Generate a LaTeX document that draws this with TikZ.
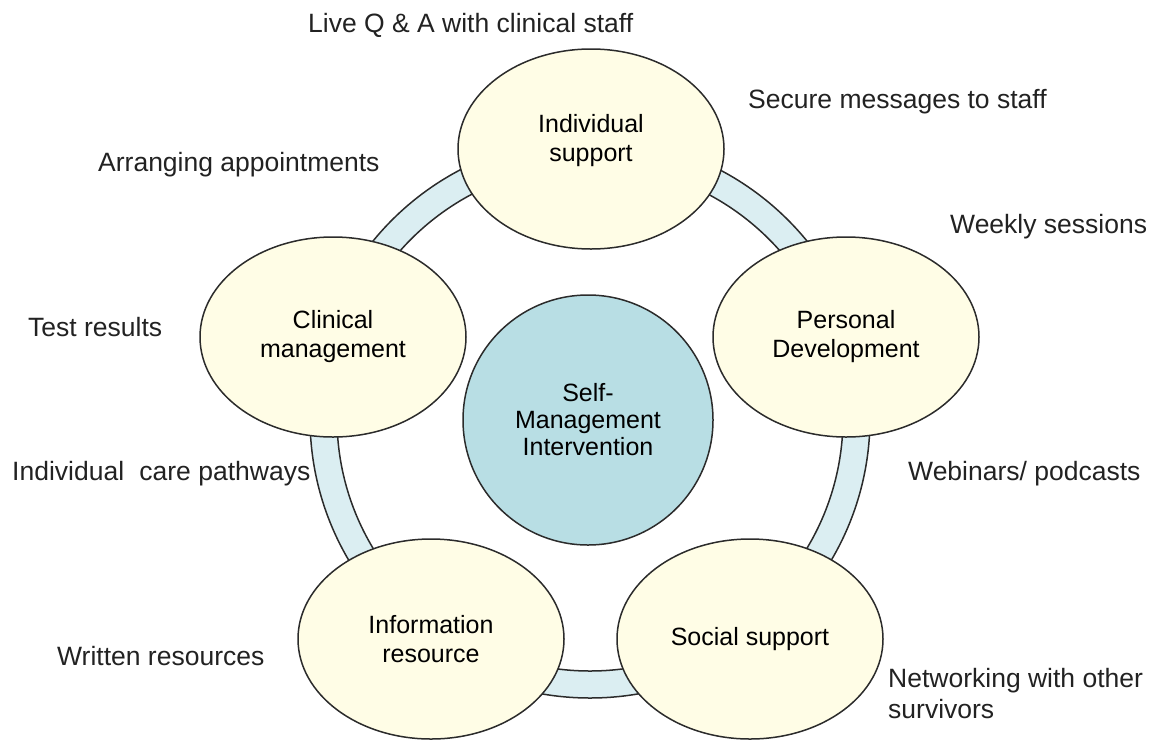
\documentclass[tikz,border=0pt]{standalone}
\usepackage{fontspec}
\setmainfont{Liberation Sans}
\usetikzlibrary{shapes.geometric}
\definecolor{cream}{HTML}{FFFDE6}
\definecolor{core}{HTML}{B8DEE4}
\definecolor{band}{HTML}{DBEEF2}
\definecolor{edge}{HTML}{2B2B2B}
\definecolor{lbl}{HTML}{222222}
\begin{document}
\begin{tikzpicture}[x=1pt,y=-1pt,
  pillar/.style={ellipse, draw=edge, line width=1.5pt, fill=cream, minimum width=266pt, minimum height=200pt, inner sep=0pt, align=center, font=\fontsize{25}{29}\selectfont, text=black},
  hub/.style={circle, draw=edge, line width=1.5pt, fill=core, minimum size=250pt, inner sep=0pt, align=center, font=\fontsize{25}{27}\selectfont, text=black},
  outer/.style={anchor=west, inner sep=0pt, align=left, font=\fontsize{26.5}{31}\selectfont, text=lbl},
  ringline/.style={draw=edge, line width=1.5pt}]
\useasboundingbox (0,0) rectangle (1150,739);
\coordinate (ringc) at (590,418);
\fill[band, even odd rule] (ringc) circle[radius=280pt] (ringc) circle[radius=253pt];
\draw[ringline] (ringc) circle[radius=280pt] (ringc) circle[radius=253pt];
\node[hub] (hub) at (588,420) {Self-\\Management\\Intervention};
\node[pillar] (is) at (591,149) {Individual\\support\\[-6pt]\mbox{}};
\node[pillar] (pd) at (846,337) {Personal\\Development};
\node[pillar] (cm) at (333,337) {Clinical\\management};
\node[pillar] (ir) at (431,639) {Information\\resource};
\node[pillar] (ss) at (750,639) {Social support};
\node[outer] (l1) at (308,25) {Live Q \& A with clinical staff};
\node[outer] (l2) at (748,102) {Secure messages to staff};
\node[outer] (l3) at (98,165) {Arranging appointments};
\node[outer] (l4) at (950,227) {Weekly sessions};
\node[outer] (l5) at (28,327) {Test results};
\node[outer] (l6) at (12,474) {Individual\hspace{0.3em} care pathways};
\node[outer] (l7) at (908,474) {Webinars/ podcasts};
\node[outer] (l8) at (57,656) {Written resources};
\node[outer] (l9) at (888,694) {Networking with other\\survivors};
\end{tikzpicture}
\end{document}
